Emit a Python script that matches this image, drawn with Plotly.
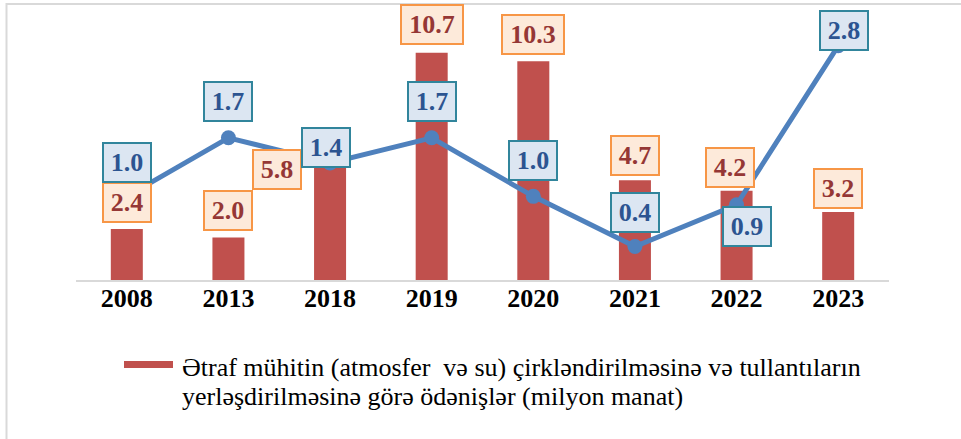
import plotly.graph_objects as go

years = ["2008", "2013", "2018", "2019", "2020", "2021", "2022", "2023"]
payments = [2.4, 2.0, 5.8, 10.7, 10.3, 4.7, 4.2, 3.2]
line_values = [1.0, 1.7, 1.4, 1.7, 1.0, 0.4, 0.9, 2.8]
legend_lines = ["Ətraf mühitin (atmosfer  və su) çirkləndirilməsinə və tullantıların",
                "yerləşdirilməsinə görə ödənişlər (milyon manat)"]

# label offsets (pixels) relative to the data point: (xshift, yshift)
bar_label_off = [(0, 27), (0, 27), (-53, -13), (0, 28), (0, 27), (0, 25), (-7, 23), (0, 24)]
line_label_off = [(0, 34), (0, 36), (-4, 15), (0, 36), (0, 36), (0, 34), (10, -22), (6, 15)]

W, H = 961, 439
L, R, T, B = 76, 889, 4, 280

fig = go.Figure()
fig.add_trace(go.Bar(x=years, y=payments, marker=dict(color="#C0504D", line=dict(width=0)),
                     showlegend=False, hoverinfo="skip"))
fig.add_trace(go.Scatter(x=years, y=line_values, yaxis="y2", mode="lines+markers",
                         line=dict(color="#4F81BD", width=5),
                         marker=dict(color="#4F81BD", size=15), showlegend=False,
                         hoverinfo="skip"))

font_fam = "Liberation Serif"
ann = []
# on a category axis, annotation x is the category's serial index
for i, v in enumerate(payments):
    txt = f"{v:.1f}"
    dx, dy = bar_label_off[i]
    a = dict(x=i, y=v, xref="x", yref="y", text=txt,
             font=dict(family=font_fam, size=26, color="#953735", weight="bold"),
             bgcolor="#FDEADA", bordercolor="#F79646", borderwidth=2, borderpad=3,
             width=40 if len(txt) == 3 else 54, height=31)
    if years[i] == "2018":
        a.update(showarrow=True, arrowhead=0, arrowwidth=1.5, arrowcolor="#A6A6A6",
                 xshift=-13, yshift=-9, ax=dx + 13, ay=-(dy + 9), standoff=0)
    else:
        a.update(showarrow=False, xshift=dx, yshift=dy)
    ann.append(a)

for i, v in enumerate(line_values):
    txt = f"{v:.1f}"
    dx, dy = line_label_off[i]
    ann.append(dict(x=i, y=v, xref="x", yref="y2", text=txt,
                    font=dict(family=font_fam, size=26, color="#2C5491", weight="bold"),
                    bgcolor="#DCE6F2", bordercolor="#31859C", borderwidth=2, borderpad=3,
                    width=40, height=31, showarrow=False, xshift=dx, yshift=dy))

def px(x):
    return (x - L) / (R - L)

def py(y):
    return (B - y) / (B - T)

for line_txt, yc in zip(legend_lines, [367, 396]):
    ann.append(dict(x=px(180), y=py(yc), xref="paper", yref="paper", xanchor="left",
                    yanchor="middle", align="left", showarrow=False, text=line_txt,
                    font=dict(family=font_fam, size=26, color="#000000")))

shapes = [
    dict(type="rect", xref="paper", yref="paper", x0=px(124), x1=px(173), y0=py(361), y1=py(368),
         fillcolor="#C0504D", line=dict(width=0)),
    dict(type="line", xref="paper", yref="paper", x0=px(6.5), x1=px(6.5), y0=py(3), y1=py(445),
         line=dict(color="#D9D9D9", width=2)),
    dict(type="line", xref="paper", yref="paper", x0=px(6), x1=px(970), y0=py(4), y1=py(4),
         line=dict(color="#D9D9D9", width=2)),
]

fig.update_layout(
    width=W, height=H,
    margin=dict(l=L, r=W - R, t=T, b=H - B, pad=0),
    plot_bgcolor="white", paper_bgcolor="white",
    xaxis=dict(type="category", categoryorder="array", categoryarray=years,
               range=[-0.5, len(years) - 0.5],
               showline=True, linecolor="#D9D9D9", linewidth=2,
               showgrid=False, ticks="", ticklabelstandoff=-6,
               tickfont=dict(family=font_fam, size=26, color="#000000", weight="bold")),
    yaxis=dict(range=[0, 13.0], visible=False, showgrid=False),
    yaxis2=dict(range=[0, 3.3], overlaying="y", visible=False, showgrid=False),
    bargap=0.685, hovermode=False,
    annotations=ann, shapes=shapes, showlegend=False,
)
fig.write_html("out.html", config={"displayModeBar": False},
               post_script="document.body.style.margin='0';document.body.style.overflow='hidden';")
